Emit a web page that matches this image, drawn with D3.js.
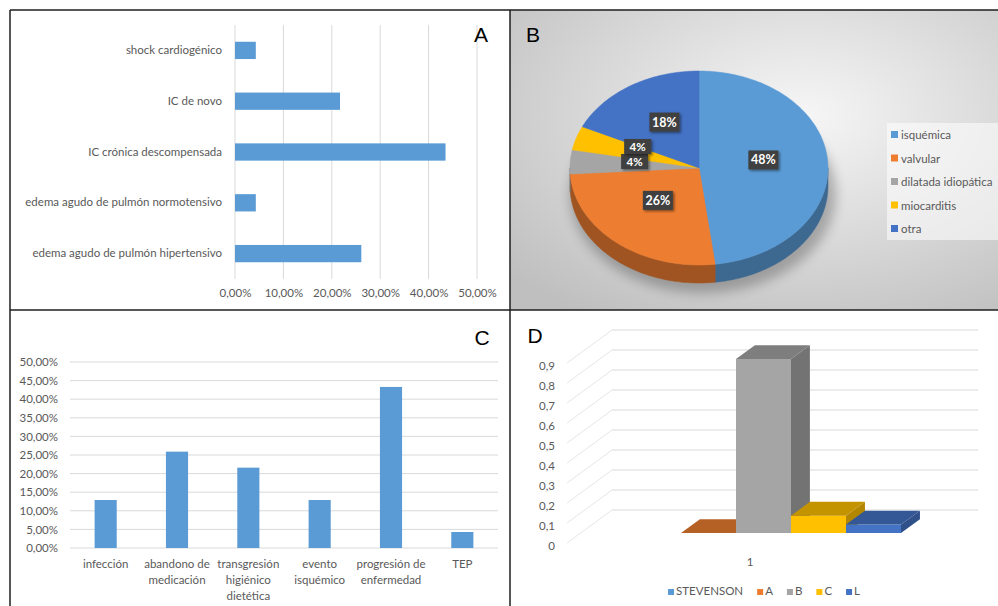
<!DOCTYPE html>
<html><head><meta charset="utf-8">
<script src="https://cdn.jsdelivr.net/npm/d3@7/dist/d3.min.js"></script>
<style>
body{margin:0;background:#fff}
svg{display:block}
text{font-family:Lato,"Open Sans",sans-serif}
</style>
</head><body>
<svg id="chart" width="998" height="606"></svg>
<script>
// ---------- DATA ----------
const catsA = ["shock cardiogénico","IC de novo","IC crónica descompensada","edema agudo de pulmón normotensivo","edema agudo de pulmón hipertensivo"];
const valsA = [0.043, 0.217, 0.435, 0.043, 0.261];
const ticksA = [0, 0.1, 0.2, 0.3, 0.4, 0.5];

const catsB = ["isquémica","valvular","dilatada idiopática","miocarditis","otra"];
const valsB = [48, 26, 4, 4, 18];
const colorsB = ["#5b9bd5","#ed7d31","#a5a5a5","#ffc000","#4472c4"];

const catsC = [["infección"],["abandono de","medicación"],["transgresión","higiénico","dietética"],["evento","isquémico"],["progresión de","enfermedad"],["TEP"]];
const valsC = [0.129, 0.259, 0.216, 0.129, 0.433, 0.043];
const ticksC = [0,0.05,0.1,0.15,0.2,0.25,0.3,0.35,0.4,0.45,0.5];

const seriesD = ["STEVENSON","A","B","C","L"];
const valsD = [null, 0, 0.87, 0.087, 0.043];
const colorsD = ["#5b9bd5","#ed7d31","#a5a5a5","#ffc000","#4472c4"];
const ticksD = [0,0.1,0.2,0.3,0.4,0.5,0.6,0.7,0.8,0.9];
const catD = "1";

// ---------- SETUP ----------
const svg = d3.select("#chart");
const defs = svg.append("defs");
const pct = v => d3.format(".2f")(v*100).replace(".", ",") + "%";
const dec = v => d3.format(".1~f")(v).replace(".", ",");
const axisColor = "#595959", gridColor = "#d9d9d9";
const FS = 11.5;

// Panel B background
const rg = defs.append("radialGradient").attr("id","bgB").attr("cx","0.6").attr("cy","0.35").attr("r","0.8");
rg.append("stop").attr("offset","0").attr("stop-color","#f6f6f6");
rg.append("stop").attr("offset","1").attr("stop-color","#bfbfbf");
svg.append("rect").attr("x",510).attr("y",10).attr("width",488).attr("height",300).attr("fill","url(#bgB)");

const sh = defs.append("filter").attr("id","shadow").attr("x","-30%").attr("y","-30%").attr("width","160%").attr("height","160%");
sh.append("feDropShadow").attr("dx",1.5).attr("dy",1.5).attr("stdDeviation",1.2).attr("flood-color","#000").attr("flood-opacity",0.45);
const blur = defs.append("filter").attr("id","blur").attr("x","-30%").attr("y","-30%").attr("width","160%").attr("height","160%");
blur.append("feGaussianBlur").attr("stdDeviation",6);

// ---------- PANEL A ----------
{
  const g = svg.append("g");
  const x = d3.scaleLinear().domain([0,0.5]).range([235,477]);
  const y = d3.scaleBand().domain(catsA).range([25,279]).paddingInner(0.66).paddingOuter(0.33);
  g.selectAll(".gA").data(ticksA).join("line")
    .attr("x1",d=>x(d)).attr("x2",d=>x(d)).attr("y1",25).attr("y2",279)
    .attr("stroke",gridColor).attr("stroke-width",1);
  g.selectAll(".bA").data(catsA).join("rect")
    .attr("x",x(0)).attr("y",d=>y(d)).attr("height",y.bandwidth())
    .attr("width",(d,i)=>x(valsA[i])-x(0)).attr("fill","#5b9bd5");
  const ax = g.append("g").attr("transform","translate(0,286)")
    .call(d3.axisBottom(x).tickValues(ticksA).tickFormat(pct).tickSize(0));
  ax.select(".domain").remove();
  ax.selectAll("text").attr("fill",axisColor).style("font-size",FS+"px").style("font-family","Lato");
  const ay = g.append("g").attr("transform","translate(222,0)")
    .call(d3.axisLeft(y).tickSize(0).tickPadding(0));
  ay.select(".domain").remove();
  ay.selectAll("text").attr("fill",axisColor).style("font-size",FS+"px").style("font-family","Lato");
  g.append("text").attr("x",481).attr("y",42).attr("text-anchor","middle").style("font-size","21px").style("font-family","Liberation Sans").text("A");
}

// ---------- PANEL B ----------
{
  const g = svg.append("g");
  const cx = 699, cy = 168, rx = 129, ry = 97, depth = 18;
  const ept = (a, dy) => [cx + rx*Math.sin(a), cy - ry*Math.cos(a) + dy];
  const arcPts = (a0,a1,dy) => { const n = Math.max(2, Math.ceil((a1-a0)/0.02)); return d3.range(n+1).map(i => ept(a0+(a1-a0)*i/n, dy)); };
  const arcs = d3.pie().sort(null).value(d=>d)(valsB);
  // shadow
  g.append("ellipse").attr("cx",cx+4).attr("cy",cy+depth+8).attr("rx",rx+4).attr("ry",ry+2)
    .attr("fill","#000").attr("opacity",0.25).attr("filter","url(#blur)");
  // sides
  arcs.forEach((a,i) => {
    const s = Math.max(a.startAngle, Math.PI/2), e = Math.min(a.endAngle, 3*Math.PI/2);
    if (e <= s) return;
    const top = arcPts(s,e,0), bot = arcPts(s,e,depth).reverse();
    g.append("path").attr("d","M"+top.concat(bot).map(p=>p.join(",")).join("L")+"Z")
      .attr("fill",d3.color(colorsB[i]).darker(1.1)).attr("stroke",d3.color(colorsB[i]).darker(1.1)).attr("stroke-width",0.5);
  });
  // tops
  arcs.forEach((a,i) => {
    const pts = arcPts(a.startAngle,a.endAngle,0);
    g.append("path").attr("d","M"+cx+","+cy+"L"+pts.map(p=>p.join(",")).join("L")+"Z")
      .attr("fill",colorsB[i]).attr("stroke",colorsB[i]).attr("stroke-width",0.5);
  });
  // labels
  const labs = arcs.map((a,i) => {
    const m = (a.startAngle+a.endAngle)/2;
    const small = valsB[i] < 10;
    return {i, x: cx + 0.5*rx*Math.sin(m), y: cy - 0.5*ry*Math.cos(m) - 5,
            w: small ? 27 : 30, h: small ? 15 : 19, fs: small ? 11.5 : 12.5};
  });
  // resolve vertical overlaps between neighbouring labels
  for (let k = 0; k < 5; k++) {
    labs.forEach(a => labs.forEach(b => {
      if (a === b) return;
      const ox = (a.w+b.w)/2 - Math.abs(a.x-b.x), oy = (a.h+b.h)/2 - Math.abs(a.y-b.y);
      if (ox > 0 && oy > 0) { const s = a.y < b.y ? -1 : 1; a.y += s*oy/2; b.y -= s*oy/2; }
    }));
  }
  [0,1,4,2,3].forEach(i => {
    const L = labs[i];
    g.append("rect").attr("x",L.x-L.w/2).attr("y",L.y-L.h/2).attr("width",L.w).attr("height",L.h)
      .attr("fill","#404040").attr("filter","url(#shadow)");
    g.append("text").attr("x",L.x).attr("y",L.y+L.fs*0.36).attr("text-anchor","middle")
      .attr("fill","#fff").style("font-size",L.fs+"px").style("font-weight","bold").text(valsB[i]+"%");
  });
  // legend
  const lg = g.append("g");
  lg.append("rect").attr("x",887).attr("y",123).attr("width",111).attr("height",117).attr("fill","#fff").attr("opacity",0.55);
  catsB.forEach((c,i) => {
    const yy = 135 + i*23.5;
    lg.append("rect").attr("x",891).attr("y",yy-4).attr("width",7).attr("height",7).attr("fill",colorsB[i]);
    lg.append("text").attr("x",901).attr("y",yy+4).attr("fill",axisColor).style("font-size",FS+"px").text(c);
  });
  g.append("text").attr("x",533).attr("y",42).attr("text-anchor","middle").style("font-size","21px").style("font-family","Liberation Sans").text("B");
}

// ---------- PANEL C ----------
{
  const g = svg.append("g");
  const y = d3.scaleLinear().domain([0,0.5]).range([548,362]);
  const x = d3.scaleBand().domain(d3.range(catsC.length)).range([70,498]).paddingInner(0.69).paddingOuter(0.345);
  g.selectAll(".gC").data(ticksC).join("line")
    .attr("x1",70).attr("x2",498).attr("y1",d=>y(d)).attr("y2",d=>y(d))
    .attr("stroke",gridColor).attr("stroke-width",1);
  g.selectAll(".bC").data(valsC).join("rect")
    .attr("x",(d,i)=>x(i)).attr("width",x.bandwidth())
    .attr("y",d=>y(d)).attr("height",d=>y(0)-y(d)).attr("fill","#5b9bd5");
  const ay = g.append("g").attr("transform","translate(58,0)")
    .call(d3.axisLeft(y).tickValues(ticksC).tickFormat(pct).tickSize(0).tickPadding(0));
  ay.select(".domain").remove();
  ay.selectAll("text").attr("fill",axisColor).style("font-size",FS+"px").style("font-family","Lato");
  catsC.forEach((lines,i) => {
    const t = g.append("text").attr("text-anchor","middle").attr("fill",axisColor).style("font-size",FS+"px");
    lines.forEach((l,j) => t.append("tspan").attr("x",x(i)+x.bandwidth()/2).attr("y",568+j*16).text(l));
  });
  g.append("text").attr("x",482).attr("y",345).attr("text-anchor","middle").style("font-size","21px").style("font-family","Liberation Sans").text("C");
}

// ---------- PANEL D ----------
{
  const g = svg.append("g");
  const y = d3.scaleLinear().domain([0,1]).range([543,343]);
  const x = d3.scaleBand().domain(seriesD).range([567,933]).paddingInner(0).paddingOuter(0.827);
  const DX = 45, DY = -33;        // full depth offset
  const z0 = 0.3, z1 = 0.72;      // bar depth range
  const P = (xx, v, z) => [xx + DX*z, y(v) + DY*z];
  // back wall
  g.selectAll(".gD").data(ticksD).join("line")
    .attr("x1",567+DX).attr("x2",933+DX).attr("y1",d=>y(d)+DY).attr("y2",d=>y(d)+DY)
    .attr("stroke",gridColor).attr("stroke-width",1);
  // side wall
  g.selectAll(".sD").data(ticksD).join("line")
    .attr("x1",567).attr("x2",567+DX).attr("y1",d=>y(d)).attr("y2",d=>y(d)+DY)
    .attr("stroke","#e6e6e6").attr("stroke-width",1);
  // ticks
  g.selectAll(".tD").data(ticksD).join("text")
    .attr("x",555).attr("y",d=>y(d)+7).attr("text-anchor","end")
    .attr("fill",axisColor).style("font-size",FS+"px").text(dec);
  // bars
  const poly = pts => "M" + pts.map(p=>p.join(",")).join("L") + "Z";
  seriesD.forEach((s,i) => {
    const v = valsD[i];
    if (v === null) return;
    const xl = x(s), xr = x(s)+x.bandwidth();
    const c = d3.color(colorsD[i]);
    g.append("path").attr("d",poly([P(xl,0,z0),P(xr,0,z0),P(xr,v,z0),P(xl,v,z0)])).attr("fill",c);
    g.append("path").attr("d",poly([P(xr,0,z0),P(xr,0,z1),P(xr,v,z1),P(xr,v,z0)])).attr("fill",c.darker(1.0));
    g.append("path").attr("d",poly([P(xl,v,z0),P(xr,v,z0),P(xr,v,z1),P(xl,v,z1)])).attr("fill",c.darker(0.75));
  });
  g.append("text").attr("x",750).attr("y",566).attr("text-anchor","middle")
    .attr("fill",axisColor).style("font-size",FS+"px").text(catD);
  // legend
  const lg = g.append("g");
  let lx = 0;
  seriesD.forEach((s,i) => {
    const it = lg.append("g");
    it.append("rect").attr("x",0).attr("y",-6).attr("width",6).attr("height",6).attr("fill",colorsD[i]);
    const t = it.append("text").attr("x",8).attr("y",0).attr("fill",axisColor).style("font-size",FS+"px").text(s);
    const w = 8 + t.node().getComputedTextLength();
    it.attr("transform",`translate(${lx},0)`);
    lx += w + 14;
  });
  lx -= 14;
  lg.attr("transform",`translate(${764 - lx/2},595)`);
  g.append("text").attr("x",535).attr("y",343).attr("text-anchor","middle").style("font-size","21px").style("font-family","Liberation Sans").text("D");
}

// ---------- BORDERS ----------
const bc = "#1e1e1e";
[[10,10,998,10],[10,310,998,310],[10,10,10,606],[510,10,510,606]].forEach(l => {
  svg.append("line").attr("x1",l[0]).attr("y1",l[1]).attr("x2",l[2]).attr("y2",l[3])
    .attr("stroke",bc).attr("stroke-width",1.5);
});
</script>
</body></html>
